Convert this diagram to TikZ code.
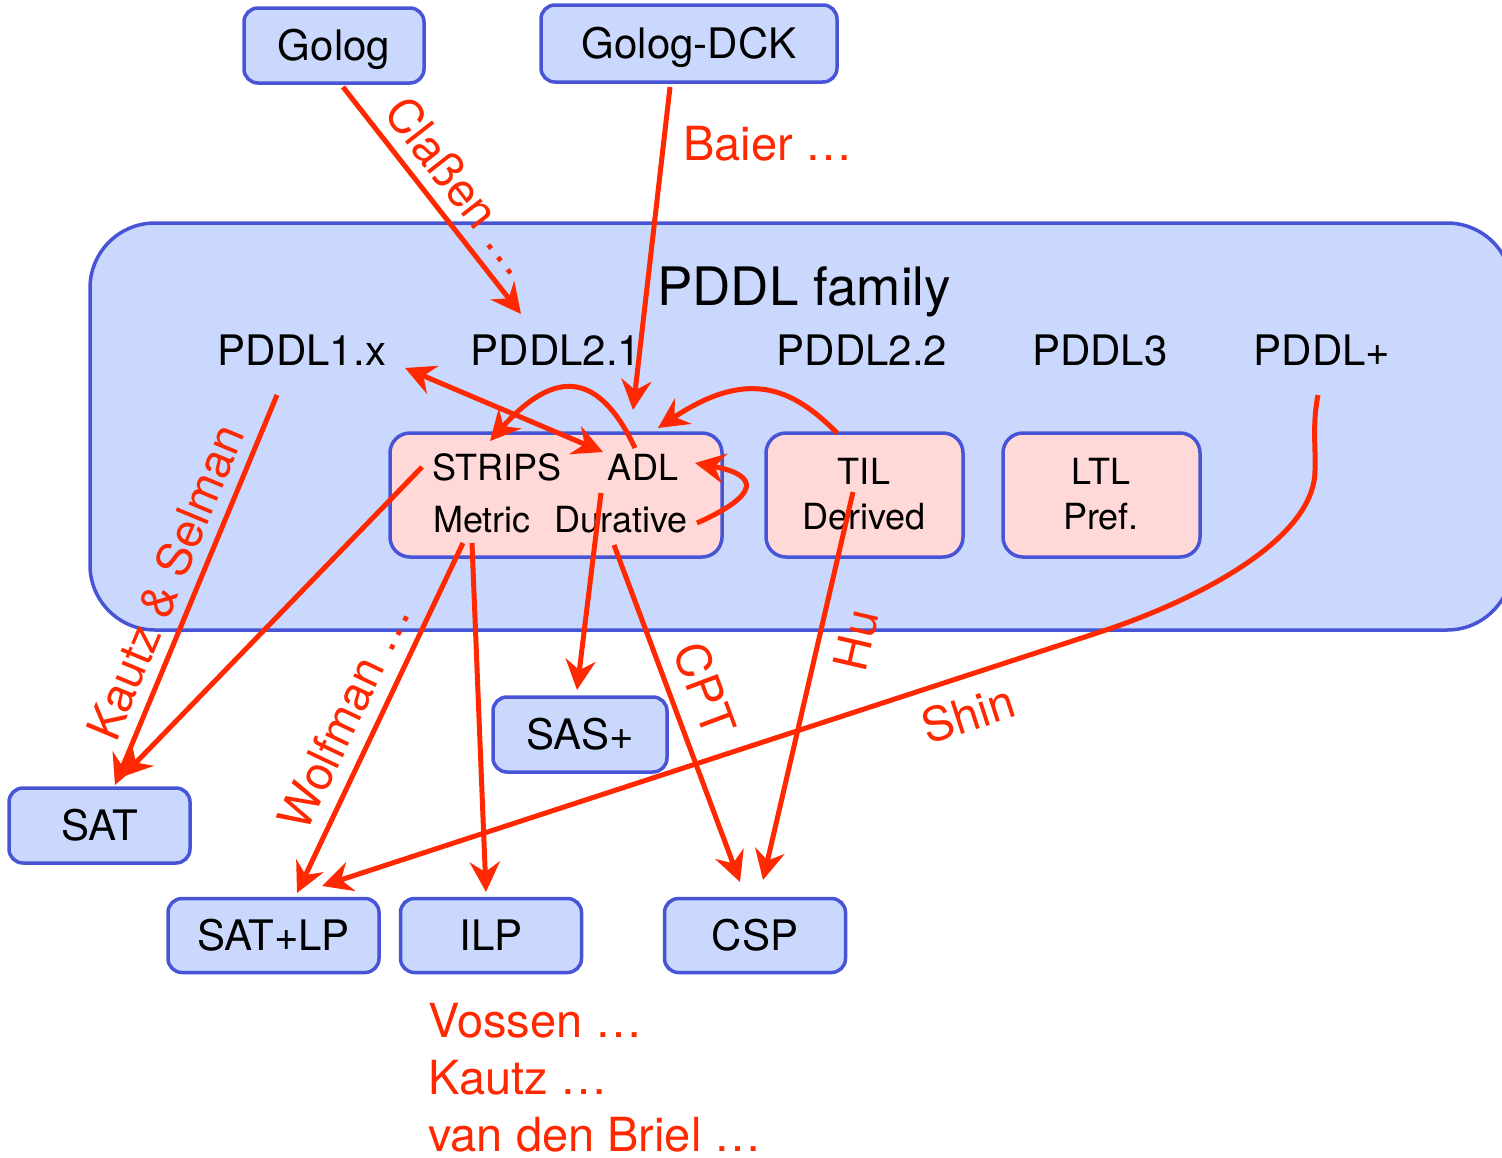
\documentclass[tikz,border=0pt]{standalone}
\usepackage{fontspec}
\setmainfont{TeX Gyre Heros}
\usetikzlibrary{arrows.meta}
\definecolor{redc}{RGB}{255,40,0}
\definecolor{bfill}{RGB}{201,216,252}
\definecolor{bord}{RGB}{72,84,214}
\definecolor{pfill}{RGB}{255,216,216}
\newcommand\fsL{\fontsize{42}{50}\selectfont}
\newcommand\fsM{\fontsize{36}{44}\selectfont}
\newcommand\fsR{\fontsize{47}{56}\selectfont}
\newcommand\fsT{\fontsize{53}{62}\selectfont}
\tikzset{
  >={Stealth[length=30pt,width=30pt,inset=10pt]},
  bbox/.style={draw=bord, fill=bfill, line width=3.5pt, rounded corners=14pt,
    text height=30pt, text depth=0pt, font=\fsL, inner sep=0pt},
  pbox/.style={draw=bord, fill=pfill, line width=3.5pt, rounded corners=20pt, inner sep=0pt},
  lbl/.style={font=\fsL, anchor=base, inner sep=0pt},
  ilbl/.style={font=\fsM, anchor=base, inner sep=0pt},
  rline/.style={draw=redc, line width=5pt},
  rarr/.style={rline, ->},
  rlab/.style={text=redc, font=\fsR, inner sep=0pt}
}
\begin{document}
\begin{tikzpicture}[x=1pt,y=-1pt]
\useasboundingbox (0,0) rectangle (1502,1157);
\clip (0,0) rectangle (1502,1157);
% big family box
\node[draw=bord, fill=bfill, line width=3.5pt, rounded corners=65pt, minimum width=1422pt, minimum height=407pt, inner sep=0pt] (family) at (801,426.5) {};
\node[font=\fsT, anchor=base, inner sep=0pt] (famlabel) at (804,305) {PDDL family};
\node[lbl] (p1) at (302,365) {PDDL1.x};
\node[lbl] (p21) at (556,365) {PDDL2.1};
\node[lbl] (p22) at (862,365) {PDDL2.2};
\node[lbl] (p3) at (1100,365) {PDDL3};
\node[lbl] (pplus) at (1322,365) {PDDL+};
% pink boxes
\node[pbox, minimum width=332pt, minimum height=124pt] (sbox) at (556,495) {};
\node[pbox, minimum width=197pt, minimum height=124pt] (tbox) at (864.5,495) {};
\node[pbox, minimum width=197pt, minimum height=124pt] (lbox) at (1101.5,495) {};
\node[ilbl] (strips) at (497,480) {STRIPS};
\node[ilbl] (adl) at (643,480) {ADL};
\node[ilbl] (metric) at (482,532) {Metric};
\node[ilbl] (durative) at (621,532) {Durative};
\node[ilbl] (til) at (864,484) {TIL};
\node[ilbl] (derived) at (864,529) {Derived};
\node[ilbl] (ltl) at (1101,484) {LTL};
\node[ilbl] (pref) at (1101,529) {Pref.};
% blue boxes
\node[bbox, minimum width=180pt, minimum height=75pt] (golog) at (334,45.5) {Golog};
\node[bbox, minimum width=296pt, minimum height=77pt] (gdck) at (689,43.5) {Golog-DCK};
\node[bbox, minimum width=181pt, minimum height=75pt] (sat) at (99.5,825.5) {SAT};
\node[bbox, minimum width=174pt, minimum height=75pt] (sas) at (580,734.5) {SAS+};
\node[bbox, minimum width=211pt, minimum height=74pt] (satlp) at (273.5,935.5) {SAT+LP};
\node[bbox, minimum width=181pt, minimum height=74pt] (ilp) at (491,935.5) {ILP};
\node[bbox, minimum width=181pt, minimum height=74pt] (csp) at (755,935.5) {CSP};
% connector end points
\coordinate (gologS) at (343,87);
\coordinate (p21T) at (521,314);
\coordinate (gdckS) at (670,87);
\coordinate (adlT) at (633,410);
\coordinate (p1T) at (405,368);
\coordinate (adlL) at (603,452);
\coordinate (adlTop) at (635,448);
\coordinate (stripsT) at (490,441);
\coordinate (tilS) at (837,433);
\coordinate (adlR) at (658,428);
\coordinate (durS) at (697,523);
\coordinate (adlRR) at (695,463);
\coordinate (p1S) at (277,395);
\coordinate (satT1) at (115,785);
\coordinate (stripsS) at (422,467);
\coordinate (satT2) at (122,777);
\coordinate (metS1) at (463,543);
\coordinate (satlpT1) at (297,893);
\coordinate (metS2) at (472,543);
\coordinate (ilpT) at (486,892);
\coordinate (adlS) at (601,493);
\coordinate (sasT) at (577,690);
\coordinate (durS2) at (614,545);
\coordinate (cspT1) at (740,882);
\coordinate (derS) at (853,492);
\coordinate (cspT2) at (763,880);
\coordinate (pplusS) at (1318,395);
\coordinate (satlpT2) at (322,886);
% arrows
\draw[rarr] (gologS) -- (p21T);
\draw[rarr] (gdckS) -- (adlT);
\draw[rline, <->] (p1T) -- (adlL);
\draw[rarr] (adlTop) .. controls (600,374) and (557,366) .. (stripsT);
\draw[rarr] (tilS) .. controls (790,385) and (745,370) .. (adlR);
\draw[rarr] (durS) .. controls (760,495) and (760,475) .. (adlRR);
\draw[rarr] (p1S) -- (satT1);
\draw[rarr] (stripsS) -- (satT2);
\draw[rarr] (metS1) -- (satlpT1);
\draw[rarr] (metS2) -- (ilpT);
\draw[rarr] (adlS) -- (sasT);
\draw[rarr] (durS2) -- (cspT1);
\draw[rarr] (derS) -- (cspT2);
\draw[rarr] (pplusS) .. controls (1312,425) and (1316,450) .. (1315,470)
   .. controls (1315,540) and (1195,601) .. (1100,632) -- (satlpT2);
% labels
\node[rlab, rotate=-52] (lclassen) at (461,186) {Claßen …};
\node[rlab, anchor=base west] (lbaier) at (683,160) {Baier …};
\node[rlab, rotate=67.4] (lkautz) at (165,582) {Kautz \& Selman};
\node[rlab, rotate=64.6] (lwolf) at (344,716) {Wolfman …};
\node[rlab, rotate=-69.5] (lcpt) at (705,689) {CPT};
\node[rlab, rotate=77] (lhu) at (856,640) {Hu};
\node[rlab, rotate=18] (lshin) at (968,714) {Shin};
\node[rlab, anchor=base west] (lvossen) at (428,1037) {Vossen …};
\node[rlab, anchor=base west] (lkautz2) at (428,1094) {Kautz …};
\node[rlab, anchor=base west] (lbriel) at (428,1151) {van den Briel …};
\end{tikzpicture}
\end{document}
